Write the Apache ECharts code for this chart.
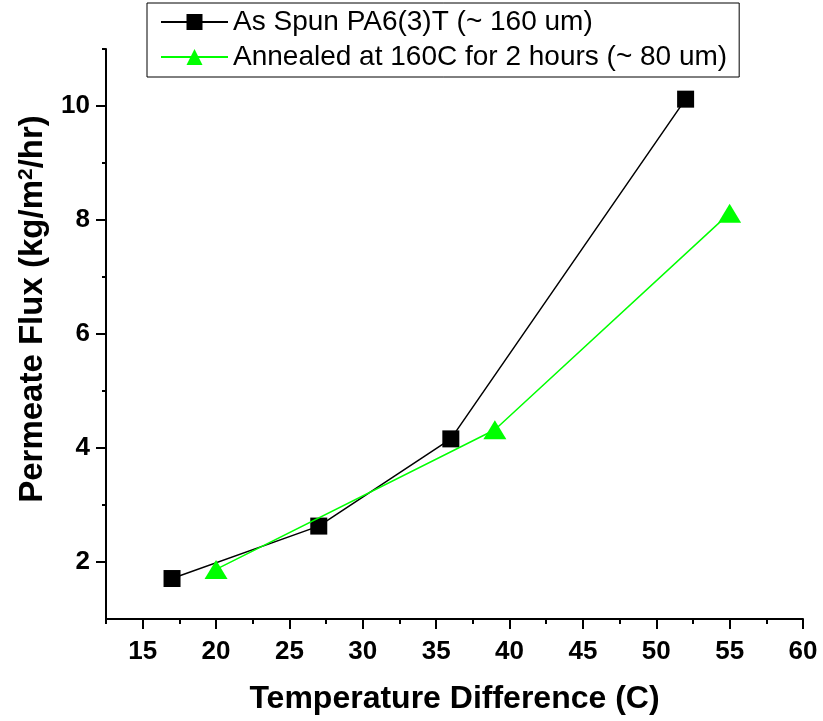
<!DOCTYPE html>
<html>
<head>
<meta charset="utf-8">
<script src="https://cdn.jsdelivr.net/npm/echarts@6/dist/echarts.min.js"></script>
<style>
  html, body { margin: 0; padding: 0; background: #fff; }
  #chart { width: 823px; height: 721px; }
</style>
</head>
<body>
<div id="chart"></div>
<script>
var FONT = '"Liberation Sans", Arial, sans-serif';

// data
var spunX = [17, 27, 36, 52];
var spunY = [1.71, 2.63, 4.16, 10.12];
var annealX = [20, 39, 55];
var annealY = [1.87, 4.32, 8.12];

var xMajor = [15, 20, 25, 30, 35, 40, 45, 50, 55, 60];
var xMinor = [12.5, 17.5, 22.5, 27.5, 32.5, 37.5, 42.5, 47.5, 52.5, 57.5];
var yMajor = [2, 4, 6, 8, 10];
var yMinor = [3, 5, 7, 9, 11];

function pairs(xs, ys) {
  var out = [];
  for (var i = 0; i < xs.length; i++) out.push([xs[i], ys[i]]);
  return out;
}

var chart = echarts.init(document.getElementById('chart'));

var option = {
  animation: false,
  textStyle: { fontFamily: FONT },
  grid: { left: 106, right: 20, top: 49, bottom: 102 },
  legend: {
    orient: 'vertical',
    left: 147,
    top: 3,
    padding: [5, 12, 6, 13],
    itemGap: 7,
    itemWidth: 67,
    itemHeight: 20,
    borderColor: '#000',
    borderWidth: 1,
    textStyle: { fontFamily: FONT, fontSize: 28, color: '#000' },
    data: ['As Spun PA6(3)T (~ 160 um)', 'Annealed at 160C for 2 hours (~ 80 um)']
  },
  xAxis: [
    {
      type: 'value', min: 12.5, max: 60,
      name: 'Temperature Difference (C)',
      nameLocation: 'middle', nameGap: 64,
      nameTextStyle: { fontSize: 32, fontWeight: 'bold', color: '#000', fontFamily: FONT },
      splitLine: { show: false },
      axisLine: { lineStyle: { color: '#000', width: 2 } },
      axisTick: { length: 10, lineStyle: { color: '#000', width: 2 }, customValues: xMajor },
      axisLabel: { customValues: xMajor, margin: 20, fontSize: 26, fontWeight: 'bold', color: '#000', fontFamily: FONT }
    },
    {
      type: 'value', min: 12.5, max: 60, position: 'bottom',
      splitLine: { show: false },
      axisLine: { show: false },
      axisTick: { length: 5, lineStyle: { color: '#000', width: 2 }, customValues: xMinor },
      axisLabel: { show: false }
    }
  ],
  yAxis: [
    {
      type: 'value', min: 1, max: 11,
      name: 'Permeate Flux (kg/m{sup|2}/hr)',
      nameLocation: 'middle', nameGap: 57,
      nameTextStyle: {
        fontSize: 33, fontWeight: 'bold', color: '#000', fontFamily: FONT,
        padding: [0, 0, 0, 50],
        rich: {
          sup: { fontSize: 21, fontWeight: 'bold', color: '#000', fontFamily: FONT, verticalAlign: 'top', lineHeight: 20 }
        }
      },
      splitLine: { show: false },
      axisLine: { show: true, lineStyle: { color: '#000', width: 2 } },
      axisTick: { show: true, length: 10, lineStyle: { color: '#000', width: 2 }, customValues: yMajor },
      axisLabel: { customValues: yMajor, margin: 16, fontSize: 26, fontWeight: 'bold', color: '#000', fontFamily: FONT }
    },
    {
      type: 'value', min: 1, max: 11, position: 'left',
      splitLine: { show: false },
      axisLine: { show: false },
      axisTick: { show: true, length: 4, lineStyle: { color: '#000', width: 2 }, customValues: yMinor },
      axisLabel: { show: false }
    }
  ],
  series: [
    {
      name: 'As Spun PA6(3)T (~ 160 um)',
      type: 'line',
      data: pairs(spunX, spunY),
      symbol: 'rect',
      symbolSize: 17,
      itemStyle: { color: '#000' },
      lineStyle: { color: '#000', width: 1.5 },
      z: 3
    },
    {
      name: 'Annealed at 160C for 2 hours (~ 80 um)',
      type: 'line',
      data: pairs(annealX, annealY),
      symbol: 'triangle',
      symbolSize: [23, 19],
      itemStyle: { color: '#00ff00' },
      lineStyle: { color: '#00ff00', width: 1.5 },
      z: 4
    }
  ]
};

chart.setOption(option);
</script>
</body>
</html>
